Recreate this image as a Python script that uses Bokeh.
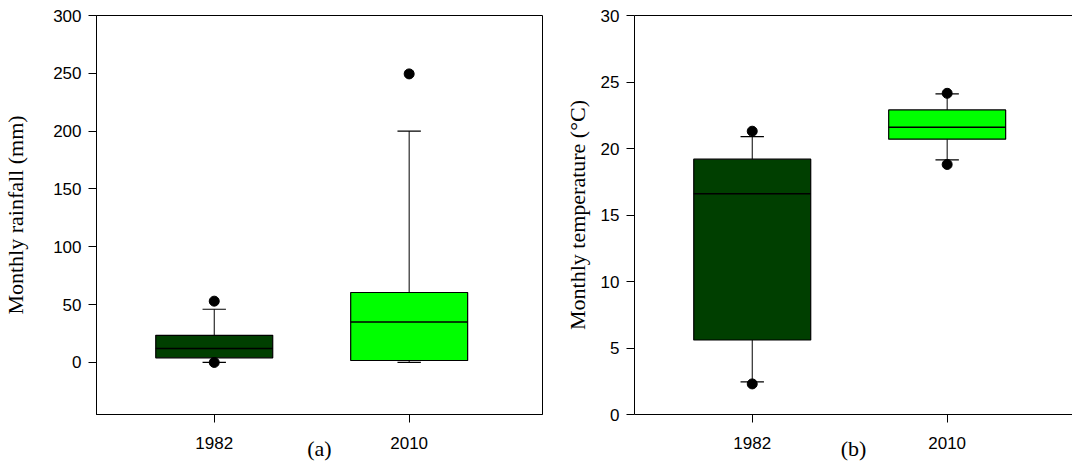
from bokeh.plotting import figure
from bokeh.models import Range1d, FixedTicker, LinearAxis, ColumnDataSource
from bokeh.layouts import row
from bokeh.embed import file_html
from bokeh.resources import INLINE

categories = ["1982", "2010"]
positions = [1, 2]
colors = ["#003F00", "#00FF00"]

# Panel (a): monthly rainfall (mm)
rain_q1 = [4.0, 1.7]
rain_med = [12.0, 35.0]
rain_q3 = [23.5, 60.5]
rain_lo = [0.0, 0.0]
rain_hi = [46.0, 200.0]
rain_out_x = [1, 1, 2]
rain_out_y = [53.0, 0.0, 249.5]

# Panel (b): monthly temperature (°C)
temp_q1 = [5.6, 20.7]
temp_med = [16.6, 21.6]
temp_q3 = [19.2, 22.9]
temp_lo = [2.45, 19.15]
temp_hi = [20.9, 24.1]
temp_out_x = [1, 1, 2, 2]
temp_out_y = [21.3, 2.3, 24.15, 18.8]

BOX_W = 0.6
CAP_W = 0.12
X0, X1 = 0.396, 2.684
TICK_FONT = "Liberation Sans"
LAB_FONT = "Liberation Serif"


def make_panel(width, left, x_end, y_range, yticks, q1, med, q3, lo, hi, ox, oy, ylabel, tag, outline, label_standoff):
    p = figure(width=width, height=465, output_backend="svg", toolbar_location=None,
               x_range=Range1d(X0, x_end), y_range=y_range,
               min_border_left=left, min_border_right=4 if outline else 0,
               min_border_top=15, min_border_bottom=51)
    p.xgrid.visible = False
    p.ygrid.visible = False
    p.background_fill_color = "white"
    p.border_fill_color = "white"
    p.outline_line_color = "black" if outline else None
    p.outline_line_width = 1

    src = ColumnDataSource(dict(x=positions, q1=q1, med=med, q3=q3, lo=lo, hi=hi, c=colors,
                                bl=[v - BOX_W / 2 for v in positions], br=[v + BOX_W / 2 for v in positions],
                                cl=[v - CAP_W / 2 for v in positions], cr=[v + CAP_W / 2 for v in positions]))
    # whiskers
    p.segment(x0="x", y0="q3", x1="x", y1="hi", source=src, line_color="black", line_width=1)
    p.segment(x0="x", y0="q1", x1="x", y1="lo", source=src, line_color="black", line_width=1)
    p.segment(x0="cl", y0="hi", x1="cr", y1="hi", source=src, line_color="black", line_width=1.2)
    p.segment(x0="cl", y0="lo", x1="cr", y1="lo", source=src, line_color="black", line_width=1.2)
    # boxes
    p.vbar(x="x", width=BOX_W, bottom="q1", top="q3", source=src, fill_color="c",
           line_color="black", line_width=1.2)
    p.segment(x0="bl", y0="med", x1="br", y1="med", source=src, line_color="black", line_width=1.5)
    # outliers
    p.scatter(ox, oy, size=10, color="black")

    p.xaxis.ticker = FixedTicker(ticks=positions)
    p.xaxis.major_label_overrides = {pos: c for pos, c in zip(positions, categories)}
    p.yaxis.ticker = FixedTicker(ticks=yticks)
    for ax in (p.xaxis[0], p.yaxis[0]):
        ax.axis_line_color = "black"
        ax.axis_line_width = 1
        ax.major_tick_line_color = "black"
        ax.major_tick_in = 0
        ax.major_tick_out = 8
        ax.minor_tick_line_color = None
        ax.major_label_text_font = TICK_FONT
        ax.major_label_text_font_size = "17px"
        ax.major_label_text_color = "black"
    p.yaxis.major_label_standoff = 7
    p.xaxis.major_label_standoff = 14
    for ax, text, standoff in ((p.yaxis[0], ylabel, label_standoff), (p.xaxis[0], tag, -16)):
        ax.axis_label = text
        ax.axis_label_text_font = LAB_FONT
        ax.axis_label_text_font_style = "normal"
        ax.axis_label_text_font_size = "22px"
        ax.axis_label_text_color = "black"
        ax.axis_label_standoff = standoff

    if not outline:
        top = LinearAxis(ticker=FixedTicker(ticks=[]), major_label_text_font_size="0px",
                         major_tick_out=0, major_tick_in=0, minor_tick_out=0, minor_tick_in=0,
                         axis_line_color="black")
        p.add_layout(top, "above")
    return p


p1 = make_panel(546, 96, X1, Range1d(-45, 300), [0, 50, 100, 150, 200, 250, 300],
                rain_q1, rain_med, rain_q3, rain_lo, rain_hi, rain_out_x, rain_out_y,
                "Monthly rainfall (mm)", "(a)", True, 22)
p2 = make_panel(526, 88, X0 + 438 / 446 * (X1 - X0), Range1d(0, 30), [0, 5, 10, 15, 20, 25, 30],
                temp_q1, temp_med, temp_q3, temp_lo, temp_hi, temp_out_x, temp_out_y,
                "Monthly temperature (°C)", "(b)", False, 8)

layout = row(p1, p2, spacing=0)
open("out.html", "w").write(file_html(layout, INLINE))
